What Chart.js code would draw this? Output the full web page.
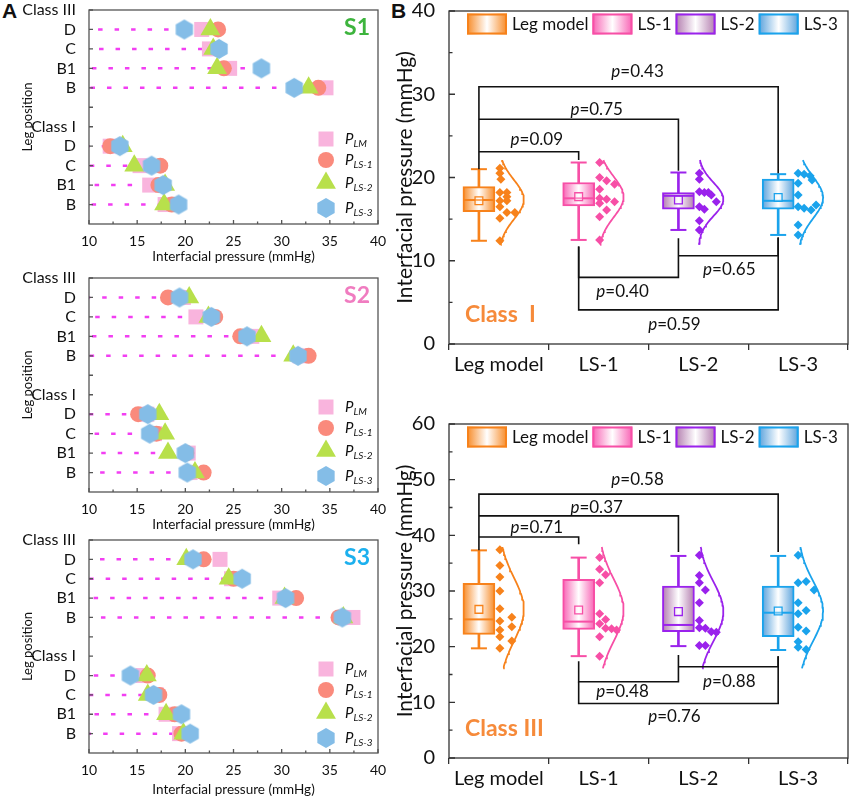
<!DOCTYPE html>
<html>
<head>
<meta charset="utf-8">
<script src="https://cdn.jsdelivr.net/npm/chart.js@4.4.1/dist/chart.umd.min.js"></script>
<style>
  body { margin: 0; background: #fff; width: 851px; height: 798px; position: relative; overflow: hidden; }
  canvas { position: absolute; }
  .tag { position: absolute; font: bold 21px "Liberation Sans", Arial, sans-serif; line-height: 21px; color: #111; }
</style>
</head>
<body>
<div class="tag" style="left:2px;top:0px">A</div>
<div class="tag" style="left:391px;top:0px">B</div>
<canvas id="s1" width="390" height="265" style="left:0;top:0"></canvas>
<canvas id="s2" width="390" height="268" style="left:0;top:265px"></canvas>
<canvas id="s3" width="390" height="265" style="left:0;top:533px"></canvas>
<canvas id="c1" width="461" height="390" style="left:390px;top:0"></canvas>
<canvas id="c3" width="461" height="408" style="left:390px;top:390px"></canvas>
<script>
'use strict';

// ---- Panel A: leg positions, rows read top to bottom ----
// y index -> label (0 = bottom edge, 11 = top edge)
var rowLabels = ['', 'B', 'B1', 'C', 'D', 'Class I', '', 'B', 'B1', 'C', 'D', 'Class III'];
// rows: Class III D, C, B1, B, then Class I D, C, B1, B
var rowPos = [10, 9, 8, 7, 4, 3, 2, 1];

var s1LM  = [21.7, 22.5, 24.6, 34.6, 12.2, 15.3, 16.3, 17.9];
var s1LS1 = [23.4, 23.4, 24.0, 33.8, 12.2, 17.4, 17.2, 18.6];
var s1LS2 = [22.6, 22.9, 23.3, 32.8, 13.5, 14.7, 17.9, 17.8];
var s1LS3 = [19.9, 23.5, 27.9, 31.3, 13.2, 16.5, 17.7, 19.3];

var s2LM  = [19.8, 21.1, 26.9, 31.9, 16.0, 16.8, 20.3, 20.5];
var s2LS1 = [18.2, 23.1, 25.7, 32.8, 15.1, 17.0, 20.1, 21.9];
var s2LS2 = [20.4, 22.4, 27.9, 31.2, 17.3, 17.9, 18.2, 21.0];
var s2LS3 = [19.4, 22.7, 26.4, 31.7, 16.1, 16.3, 20.0, 20.2];

var s3LM  = [23.6, 24.8, 29.8, 37.4, 15.6, 17.0, 18.0, 19.4];
var s3LS1 = [21.9, 25.0, 31.5, 35.9, 16.1, 17.3, 18.9, 19.6];
var s3LS2 = [20.1, 24.5, 30.3, 36.4, 16.0, 16.1, 18.0, 19.8];
var s3LS3 = [20.8, 25.9, 30.4, 36.3, 14.3, 16.7, 19.6, 20.5];

var aSubs = ['LM', 'LS-1', 'LS-2', 'LS-3'];
var aXTicks = [10, 15, 20, 25, 30, 35, 40];

// ---- Panel B: box statistics and raw points ----
var groups = ['Leg model', 'LS-1', 'LS-2', 'LS-3'];

var c1Min  = [12.4, 12.5, 13.7, 13.1];
var c1Q1   = [15.9, 16.6, 16.2, 16.2];
var c1Med  = [17.3, 17.5, 17.8, 17.2];
var c1Q3   = [18.9, 19.4, 18.2, 19.8];
var c1Max  = [21.0, 21.8, 20.6, 20.4];
var c1Mean = [17.2, 17.7, 17.3, 17.6];
var c1Dots = [
  [21.1, 20.5, 19.8, 18.2, 18.2, 17.7, 17.2, 17.2, 16.5, 15.8, 15.8, 15.1, 12.4],
  [21.8, 20.0, 19.6, 19.2, 18.6, 17.5, 17.4, 17.1, 16.9, 16.1, 15.3, 12.5],
  [20.5, 19.8, 18.3, 18.2, 18.2, 17.9, 17.1, 16.5, 16.2, 14.8, 13.7],
  [20.5, 20.4, 20.2, 19.7, 19.3, 17.9, 16.5, 16.3, 16.1, 16.7, 14.3, 13.1]
];
var c1DotOff = [
  [.01, .01, .02, .01, .08, .08, .01, .08, .01, .08, .16, .01, .01],
  [.01, .01, .08, .16, .01, .01, .08, .16, .01, .08, .01, .01],
  [.01, .01, .01, .06, .10, .13, .18, .01, .06, .01, .01],
  [.00, .06, .12, .14, .00, .00, .00, .06, .13, .18, .00, .00]
];
var c1BrA = [0, 0, 0, 1, 2, 1];
var c1BrB = [3, 2, 1, 2, 3, 3];
var c1BrLevel = [30.9, 27.0, 23.1, 8.0, 10.6, 4.1];
var c1BrEndA = [21.0, 27.0, 23.1, 11.7, 10.6, 11.7];
var c1BrEndB = [20.5, 20.8, 22.1, 12.7, 12.8, 12.8];
var c1P  = ['0.43', '0.75', '0.09', '0.40', '0.65', '0.59'];
var c1PX = [1.39, 0.98, 0.38, 1.24, 2.31, 1.76];
var c1PY = [32.7, 28.2, 24.6, 6.3, 8.9, 2.3];

var c3Min  = [19.7, 18.3, 20.1, 19.4];
var c3Q1   = [22.2, 23.1, 22.7, 21.8];
var c3Med  = [24.9, 24.5, 23.9, 26.1];
var c3Q3   = [31.4, 32.1, 30.9, 30.9];
var c3Max  = [37.3, 36.0, 36.3, 36.3];
var c3Mean = [26.7, 26.6, 26.3, 26.4];
var c3Dots = [
  [37.4, 34.6, 32.5, 30.0, 26.8, 25.3, 24.6, 23.6, 23.0, 21.8, 21.0, 19.7],
  [36.0, 33.9, 32.9, 31.5, 25.9, 24.9, 24.1, 23.3, 23.2, 23.0, 21.8, 18.3],
  [36.4, 32.8, 31.5, 30.2, 27.9, 24.7, 23.4, 23.3, 22.7, 22.6, 20.2, 20.2],
  [36.4, 31.5, 31.7, 30.2, 27.9, 26.5, 25.9, 23.5, 22.8, 20.9, 19.9, 19.5]
];
var c3DotOff = [
  [.01, .01, .01, .01, .01, .13, .01, .13, .01, .01, .13, .01],
  [.01, .01, .07, .01, .01, .07, .01, .07, .13, .18, .01, .01],
  [.01, .01, .01, .07, .01, .01, .01, .07, .13, .18, .01, .07],
  [.00, .00, .08, .16, .00, .08, .00, .00, .08, .00, .00, .08]
];
var c3BrA = [0, 0, 0, 1, 2, 1];
var c3BrB = [3, 2, 1, 2, 3, 3];
var c3BrLevel = [47.4, 43.5, 39.7, 13.7, 16.4, 9.8];
var c3BrEndA = [37.3, 43.5, 39.7, 17.4, 16.4, 13.7];
var c3BrEndB = [37.0, 37.0, 38.4, 18.5, 18.3, 18.3];
var c3P  = ['0.58', '0.37', '0.71', '0.48', '0.88', '0.76'];
var c3PX = [1.39, 0.98, 0.38, 1.24, 2.31, 1.76];
var c3PY = [50.1, 45.0, 41.4, 12.0, 13.8, 7.4];

// ---- styles ----
var aColors = ['#f9b4dd', '#fa8a7c', '#b8e04b', '#84bde7'];
var grpColor = ['#f7821b', '#f74fa6', '#9a22ec', '#1aa3ec'];
var grpFill = ['#f78a26', '#f862b4', '#b27cae', '#5aa2dc'];
var BOX_SHIFT = -0.2;
var CURVE_AMP = 0.25;

Chart.defaults.font.family = 'Lato, "Open Sans", sans-serif';
Chart.defaults.color = '#111';

function makeHex(r, color) {
  var c = document.createElement('canvas');
  var w = Math.ceil(r * Math.sqrt(3)) + 2, h = Math.ceil(2 * r) + 2;
  c.width = w; c.height = h;
  var g = c.getContext('2d');
  g.fillStyle = color;
  g.beginPath();
  for (var k = 0; k < 6; k++) {
    var t = Math.PI / 2 + k * Math.PI / 3;
    var px = w / 2 + r * Math.cos(t), py = h / 2 + r * Math.sin(t);
    if (k) g.lineTo(px, py); else g.moveTo(px, py);
  }
  g.closePath();
  g.fill();
  return c;
}
var hexImg = makeHex(10, aColors[3]);
var aStyles = ['rect', 'circle', 'triangle', hexImg];
var aRadius = [10.6, 8, 11.5, 10];

// no automatic label padding, the layout padding sets the plot box
function noLabelPad(s) {
  s.paddingTop = 0; s.paddingBottom = 0; s.paddingLeft = 0; s.paddingRight = 0;
}

// frame + inward ticks
var framePlugin = {
  id: 'frame',
  afterDraw: function(chart, args, o) {
    var ctx = chart.ctx, a = chart.chartArea, sx = chart.scales.x, sy = chart.scales.y;
    ctx.save();
    ctx.strokeStyle = o.color;
    ctx.lineWidth = o.width;
    ctx.strokeRect(a.left, a.top, a.right - a.left, a.bottom - a.top);
    ctx.beginPath();
    (o.xMajor || []).forEach(function(v) { var p = sx.getPixelForValue(v); ctx.moveTo(p, a.bottom); ctx.lineTo(p, a.bottom - o.major); });
    (o.xMinor || []).forEach(function(v) { var p = sx.getPixelForValue(v); ctx.moveTo(p, a.bottom); ctx.lineTo(p, a.bottom - o.minor); });
    (o.yMajor || []).forEach(function(v) { var p = sy.getPixelForValue(v); ctx.moveTo(a.left, p); ctx.lineTo(a.left + o.major, p); });
    (o.yMinor || []).forEach(function(v) { var p = sy.getPixelForValue(v); ctx.moveTo(a.left, p); ctx.lineTo(a.left + o.minor, p); });
    ctx.stroke();
    ctx.restore();
  }
};

function panelA(id, lm, ls1, ls2, ls3, tag, tagColor, padTop, xHeight) {
  var series = [lm, ls1, ls2, ls3];
  var ds = [];
  // dotted drop line from the furthest marker back to the axis
  rowPos.forEach(function(r, k) {
    var reach = Math.max(lm[k], ls1[k], ls2[k], ls3[k]);
    ds.push({
      type: 'scatter', showLine: true,
      data: [{x: reach, y: r}, {x: 10, y: r}],
      borderColor: '#f23ef2', borderWidth: 2.5, borderDash: [4.5, 12],
      pointRadius: 0, order: 9
    });
  });
  series.forEach(function(vals, s) {
    ds.push({
      type: 'scatter',
      data: vals.map(function(v, k) { return {x: v, y: rowPos[k]}; }),
      pointStyle: aStyles[s], pointRadius: aRadius[s],
      backgroundColor: aColors[s], borderWidth: 0,
      order: 5 - s
    });
  });

  var decor = {
    id: 'decorA',
    afterDraw: function(chart) {
      var ctx = chart.ctx, a = chart.chartArea;
      ctx.save();
      ctx.font = 'bold 23px Lato';
      ctx.fillStyle = tagColor;
      ctx.textAlign = 'center';
      ctx.textBaseline = 'middle';
      ctx.fillText(tag, a.right - 21, a.top + 18);
      var rows = [129, 150, 173, 198];
      ctx.textAlign = 'left';
      aSubs.forEach(function(sub, s) {
        var y = a.top + rows[s];
        ctx.fillStyle = aColors[s];
        Chart.helpers.drawPoint(ctx, {pointStyle: aStyles[s], radius: aRadius[s], borderWidth: 0, rotation: 0}, a.right - 52, y);
        ctx.fillStyle = '#111';
        ctx.font = 'italic 15px Lato';
        ctx.fillText('P', a.right - 33, y);
        var w = ctx.measureText('P').width;
        ctx.font = 'italic 10px Lato';
        ctx.fillText(sub, a.right - 33 + w, y + 5);
      });
      ctx.restore();
    }
  };

  var minor = aXTicks.slice(0, -1).map(function(v) { return v + 2.5; });

  return new Chart(document.getElementById(id), {
    type: 'scatter',
    data: { datasets: ds },
    plugins: [framePlugin, decor],
    options: {
      responsive: false, animation: false, events: [],
      layout: { autoPadding: false, padding: { top: padTop, right: 12, left: 0, bottom: 0 } },
      plugins: {
        legend: { display: false }, tooltip: { enabled: false },
        frame: { color: '#555', width: 1.3, major: 4, minor: 2.5, xMajor: aXTicks, xMinor: minor, yMajor: rowPos.concat([5, 6, 11]) }
      },
      scales: {
        x: {
          type: 'linear', min: 10, max: 40,
          afterBuildTicks: function(s) { s.ticks = aXTicks.map(function(v) { return {value: v}; }); },
          afterFit: function(s) { s.height = xHeight; noLabelPad(s); },
          grid: { display: false }, border: { display: false },
          ticks: { font: { size: 14 }, padding: 1, color: '#111' },
          title: { display: true, text: 'Interfacial pressure (mmHg)', font: { size: 13.5 }, padding: 0, color: '#111' }
        },
        y: {
          type: 'linear', min: 0, max: 11,
          afterBuildTicks: function(s) { s.ticks = rowLabels.map(function(_, i) { return {value: i}; }); },
          afterFit: function(s) { s.width = 89; noLabelPad(s); },
          grid: { display: false }, border: { display: false },
          ticks: { autoSkip: false, font: { size: 16 }, padding: 5, color: '#111',
            callback: function(v) { return rowLabels[v]; } },
          title: { display: true, text: 'Leg position', font: { size: 13 }, padding: { top: 20 }, color: '#111' }
        }
      }
    }
  });
}

function meanSd(vals) {
  var m = vals.reduce(function(a, b) { return a + b; }, 0) / vals.length;
  var v = vals.reduce(function(a, b) { return a + (b - m) * (b - m); }, 0) / (vals.length - 1);
  return [m, Math.sqrt(v)];
}

function boxFill(c) {
  var ch = c.chart;
  var col = grpFill[c.dataIndex];
  if (!ch.chartArea || !c.raw) return col;
  var cx = ch.scales.x.getPixelForValue(c.raw.x);
  var g = ch.ctx.createLinearGradient(cx - 16, 0, cx + 16, 0);
  g.addColorStop(0, col);
  g.addColorStop(0.5, '#ffffff');
  g.addColorStop(1, col);
  return g;
}

function drawP(ctx, x, y, val) {
  ctx.font = 'italic 17px Lato';
  var w1 = ctx.measureText('p').width;
  ctx.font = '17px Lato';
  var w2 = ctx.measureText('=' + val).width;
  var sx = x - (w1 + w2) / 2;
  ctx.font = 'italic 17px Lato';
  ctx.fillText('p', sx, y);
  ctx.font = '17px Lato';
  ctx.fillText('=' + val, sx + w1, y);
}

function panelB(id, st, dots, dotOff, curveRange, yMax, br, ptext, classText, padTop, xHeight) {
  var ds = [];
  var bx = groups.map(function(g, i) { return i + BOX_SHIFT; });
  // whiskers
  ds.push({ type: 'bar', grouped: false, barThickness: 2,
    data: bx.map(function(x, i) { return {x: x, y: [st.min[i], st.max[i]]}; }),
    backgroundColor: grpColor, borderWidth: 0, order: 10 });
  // boxes
  ds.push({ type: 'bar', grouped: false, barThickness: 32,
    data: bx.map(function(x, i) { return {x: x, y: [st.q1[i], st.q3[i]]}; }),
    backgroundColor: boxFill, borderColor: grpColor, borderWidth: 2, borderSkipped: false, order: 9 });
  // whisker caps
  var caps = [], capCol = [];
  bx.forEach(function(x, i) { caps.push({x: x, y: st.min[i]}, {x: x, y: st.max[i]}); capCol.push(grpColor[i], grpColor[i]); });
  ds.push({ type: 'scatter', data: caps, pointStyle: 'line', pointRadius: 8, pointBorderWidth: 2, pointBorderColor: capCol, order: 8 });
  // medians
  ds.push({ type: 'scatter', data: bx.map(function(x, i) { return {x: x, y: st.med[i]}; }),
    pointStyle: 'line', pointRadius: 15, pointBorderWidth: 2, pointBorderColor: grpColor, order: 7 });
  // means
  ds.push({ type: 'scatter', data: bx.map(function(x, i) { return {x: x, y: st.mean[i]}; }),
    pointStyle: 'rect', pointRadius: 5.5, pointBorderWidth: 1.3, pointBorderColor: grpColor,
    pointBackgroundColor: 'rgba(255,255,255,0.35)', order: 6 });
  // raw points and normal curves
  dots.forEach(function(vals, i) {
    ds.push({ type: 'scatter', data: vals.map(function(v, k) { return {x: i + dotOff[i][k], y: v}; }),
      pointStyle: 'rectRot', pointRadius: 4.5, backgroundColor: grpColor[i], borderWidth: 0, order: 5 });
    var ms = meanSd(vals), pts = [];
    for (var k = 0; k <= 60; k++) {
      var y = curveRange[0] + (curveRange[1] - curveRange[0]) * k / 60;
      var z = (y - ms[0]) / ms[1];
      pts.push({x: i + CURVE_AMP * Math.exp(-z * z / 2), y: y});
    }
    ds.push({ type: 'scatter', showLine: true, data: pts, borderColor: grpColor[i], borderWidth: 1.8,
      pointRadius: 0, order: 4 });
  });
  // significance brackets
  br.a.forEach(function(ga, k) {
    var xa = ga + BOX_SHIFT, xb = br.b[k] + BOX_SHIFT;
    ds.push({ type: 'scatter', showLine: true,
      data: [{x: xa, y: br.endA[k]}, {x: xa, y: br.level[k]}, {x: xb, y: br.level[k]}, {x: xb, y: br.endB[k]}],
      borderColor: '#111', borderWidth: 1.6, pointRadius: 0, order: 1 });
  });

  var decor = {
    id: 'decorB',
    afterDraw: function(chart) {
      var ctx = chart.ctx, a = chart.chartArea, sx = chart.scales.x, sy = chart.scales.y;
      ctx.save();
      ctx.textBaseline = 'middle';
      ctx.textAlign = 'left';
      ctx.fillStyle = '#111';
      ptext.txt.forEach(function(t, k) {
        drawP(ctx, sx.getPixelForValue(ptext.x[k]), sy.getPixelForValue(ptext.y[k]), t);
      });
      // legend
      var x = a.left + 18, y = a.top + 2.5;
      groups.forEach(function(g, i) {
        var gr = ctx.createLinearGradient(x, 0, x + 40, 0);
        gr.addColorStop(0, grpFill[i]); gr.addColorStop(0.5, '#ffffff'); gr.addColorStop(1, grpFill[i]);
        ctx.fillStyle = gr;
        ctx.fillRect(x, y, 40, 21);
        ctx.strokeStyle = grpColor[i];
        ctx.lineWidth = 2;
        ctx.strokeRect(x + 1, y + 1, 38, 19);
        ctx.fillStyle = '#111';
        ctx.font = '17px Lato';
        ctx.fillText(g, x + 45, y + 11);
        x += 45 + ctx.measureText(g).width + 4;
      });
      ctx.font = 'bold 23px Lato';
      ctx.fillStyle = '#f68a3a';
      ctx.fillText(classText, a.left + 16, a.bottom - 29);
      ctx.restore();
    }
  };

  var yTicks = [], yMinor = [];
  for (var v = 0; v <= yMax; v += 10) { yTicks.push(v); if (v + 5 < yMax) yMinor.push(v + 5); }

  return new Chart(document.getElementById(id), {
    type: 'scatter',
    data: { datasets: ds },
    plugins: [framePlugin, decor],
    options: {
      responsive: false, animation: false, events: [],
      layout: { autoPadding: false, padding: { top: padTop, right: 3, left: 0, bottom: 0 } },
      plugins: {
        legend: { display: false }, tooltip: { enabled: false },
        frame: { color: '#333', width: 1.3, major: 6, minor: 3.5, yMajor: yTicks, yMinor: yMinor }
      },
      scales: {
        x: {
          type: 'linear', min: -0.5, max: 3.5, offset: false,
          afterBuildTicks: function(s) { s.ticks = groups.map(function(g, i) { return {value: i}; }); },
          afterFit: function(s) { s.height = xHeight; noLabelPad(s); },
          grid: { display: true, drawOnChartArea: false, drawTicks: true, tickLength: 6, color: '#333', lineWidth: 1.3 },
          border: { display: false },
          ticks: { font: { size: 20 }, padding: 3, color: '#111', callback: function(v) { return groups[v]; } }
        },
        y: {
          type: 'linear', min: 0, max: yMax,
          afterBuildTicks: function(s) { s.ticks = yTicks.map(function(v) { return {value: v}; }); },
          afterFit: function(s) { s.width = 59; noLabelPad(s); },
          grid: { display: false }, border: { display: false },
          ticks: { font: { size: 20 }, padding: 6, color: '#111' },
          title: { display: true, text: 'Interfacial pressure (mmHg)', font: { size: 21 }, padding: { top: 3 }, color: '#111' }
        }
      }
    }
  });
}

panelA('s1', s1LM, s1LS1, s1LS2, s1LS3, 'S1', '#3db43d', 10, 41);
panelA('s2', s2LM, s2LS1, s2LS2, s2LS3, 'S2', '#f07cc0', 13, 41);
panelA('s3', s3LM, s3LS1, s3LS2, s3LS3, 'S3', '#1cb0ee', 7, 45);

panelB('c1',
  { min: c1Min, q1: c1Q1, med: c1Med, q3: c1Q3, max: c1Max, mean: c1Mean },
  c1Dots, c1DotOff, [11.9, 22.1], 40,
  { a: c1BrA, b: c1BrB, level: c1BrLevel, endA: c1BrEndA, endB: c1BrEndB },
  { txt: c1P, x: c1PX, y: c1PY }, 'Class  I', 11, 46);

panelB('c3',
  { min: c3Min, q1: c3Q1, med: c3Med, q3: c3Q3, max: c3Max, mean: c3Mean },
  c3Dots, c3DotOff, [16.1, 37.9], 60,
  { a: c3BrA, b: c3BrB, level: c3BrLevel, endA: c3BrEndA, endB: c3BrEndB },
  { txt: c3P, x: c3PX, y: c3PY }, 'Class III', 34, 40);
</script>
</body>
</html>
